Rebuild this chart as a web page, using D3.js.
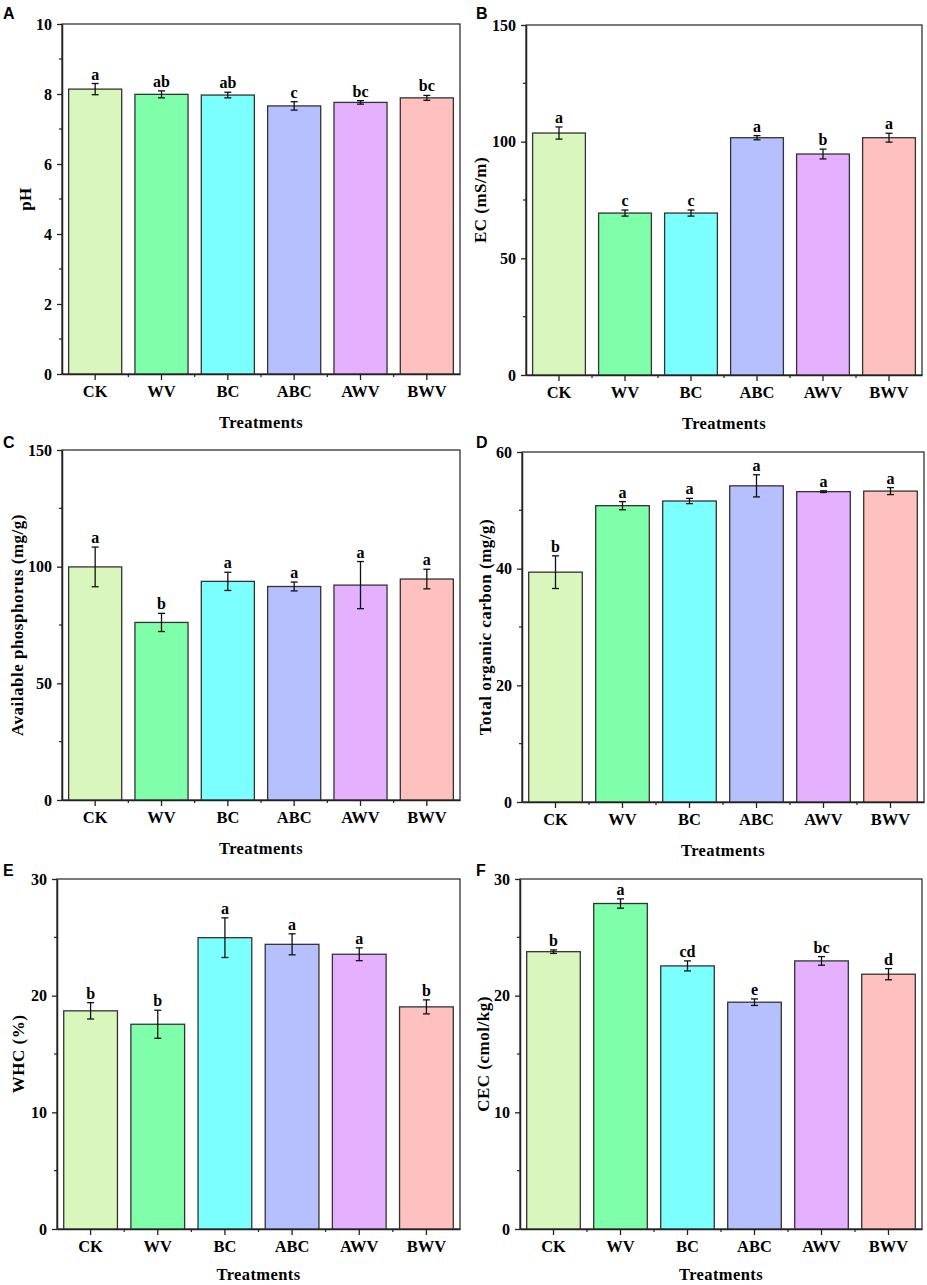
<!DOCTYPE html>
<html>
<head>
<meta charset="utf-8">
<script src="https://cdn.jsdelivr.net/npm/d3@7"></script>
<style>
  body { margin: 0; background: #fff; }
  svg text { font-family: "Times New Roman", "Liberation Serif", serif; font-weight: bold; fill: #000; }
  .panel-letter { font-family: Arial, "Liberation Sans", sans-serif !important; }
</style>
</head>
<body>
<div id="chart"></div>
<script>
// treatments on the x axis
const treatments = ["CK", "WV", "BC", "ABC", "AWV", "BWV"];
const barColors = ["#d9f7bd", "#80ffaa", "#7cffff", "#b7c0ff", "#e5b1ff", "#ffc0c0"];

// A - pH
const phMean = [8.14, 7.99, 7.97, 7.66, 7.76, 7.89];
const phErr = [0.16, 0.10, 0.08, 0.12, 0.05, 0.07];
const phSig = ["a", "ab", "ab", "c", "bc", "bc"];

// B - EC
const ecMean = [103.7, 69.4, 69.4, 101.7, 94.7, 101.7];
const ecErr = [2.6, 1.3, 1.3, 0.9, 2.1, 1.9];
const ecSig = ["a", "c", "c", "a", "b", "a"];

// C - available phosphorus
const apMean = [99.9, 76.1, 93.7, 91.5, 92.1, 94.7];
const apErr = [8.5, 3.9, 3.9, 1.9, 10.1, 4.2];
const apSig = ["a", "b", "a", "a", "a", "a"];

// D - total organic carbon
const tocMean = [39.4, 50.8, 51.6, 54.2, 53.2, 53.3];
const tocErr = [2.8, 0.7, 0.45, 1.9, 0.15, 0.6];
const tocSig = ["b", "a", "a", "a", "a", "a"];

// E - WHC
const whcMean = [18.7, 17.55, 24.97, 24.4, 23.55, 19.04];
const whcErr = [0.7, 1.2, 1.7, 0.9, 0.55, 0.6];
const whcSig = ["b", "b", "a", "a", "a", "b"];

// F - CEC
const cecMean = [23.77, 27.9, 22.55, 19.44, 22.98, 21.84];
const cecErr = [0.15, 0.4, 0.43, 0.28, 0.37, 0.48];
const cecSig = ["b", "a", "cd", "e", "bc", "d"];

const yTicksA = [0, 2, 4, 6, 8, 10];
const yTicks150 = [0, 50, 100, 150];
const yTicks60 = [0, 20, 40, 60];
const yTicks30 = [0, 10, 20, 30];

const W = 927, H = 1285;
const svg = d3.select("#chart").append("svg")
  .attr("width", W)
  .attr("height", H);

// layout of the six panels
const panels = [
  { letter: "A", ylab: "pH", mean: phMean, err: phErr, sig: phSig, ticks: yTicksA,
    x0: 62, x1: 460, y0: 24, y1: 374, labOff: 37, lx: 3, ly: 19, tOff: 54 },
  { letter: "B", ylab: "EC (mS/m)", mean: ecMean, err: ecErr, sig: ecSig, ticks: yTicks150,
    x0: 526, x1: 922, y0: 25, y1: 375, labOff: 46, lx: 476, ly: 19, tOff: 54 },
  { letter: "C", ylab: "Available phosphorus  (mg/g)", mean: apMean, err: apErr, sig: apSig, ticks: yTicks150,
    x0: 62, x1: 460, y0: 450, y1: 800, labOff: 45, lx: 3, ly: 448, tOff: 54 },
  { letter: "D", ylab: "Total organic carbon (mg/g)", mean: tocMean, err: tocErr, sig: tocSig, ticks: yTicks60,
    x0: 522, x1: 924, y0: 452, y1: 802, labOff: 37, lx: 476, ly: 448, tOff: 54 },
  { letter: "E", ylab: "WHC (%)", mean: whcMean, err: whcErr, sig: whcSig, ticks: yTicks30,
    x0: 57, x1: 460, y0: 879, y1: 1229, labOff: 39, lx: 3, ly: 876, tOff: 51 },
  { letter: "F", ylab: "CEC (cmol/kg)", mean: cecMean, err: cecErr, sig: cecSig, ticks: yTicks30,
    x0: 520, x1: 922, y0: 879, y1: 1229, labOff: 37, lx: 476, ly: 876, tOff: 51 }
];

panels.forEach(drawPanel);

function drawPanel(p) {
  const g = svg.append("g");
  const yMax = p.ticks[p.ticks.length - 1];
  const step = p.ticks[1] - p.ticks[0];

  const x = d3.scaleBand()
    .domain(treatments)
    .range([p.x0, p.x1])
    .paddingInner(0.2)
    .paddingOuter(0.1);
  const y = d3.scaleLinear().domain([0, yMax]).range([p.y1, p.y0]);

  // frame
  g.append("rect")
    .attr("x", p.x0).attr("y", p.y0)
    .attr("width", p.x1 - p.x0).attr("height", p.y1 - p.y0)
    .attr("fill", "none").attr("stroke", "#222").attr("stroke-width", 1.2);

  // bars
  g.selectAll(".bar")
    .data(treatments)
    .join("rect")
    .attr("class", "bar")
    .attr("x", d => x(d))
    .attr("y", (d, i) => y(p.mean[i]))
    .attr("width", x.bandwidth())
    .attr("height", (d, i) => p.y1 - y(p.mean[i]))
    .attr("fill", (d, i) => barColors[i])
    .attr("stroke", "#333")
    .attr("stroke-width", 1.3);

  // error bars
  const cap = 3.5;
  const eb = g.selectAll(".err")
    .data(treatments)
    .join("g")
    .attr("class", "err")
    .attr("stroke", "#111")
    .attr("stroke-width", 1.3);
  eb.append("line")
    .attr("x1", d => x(d) + x.bandwidth() / 2)
    .attr("x2", d => x(d) + x.bandwidth() / 2)
    .attr("y1", (d, i) => y(p.mean[i] + p.err[i]))
    .attr("y2", (d, i) => y(p.mean[i] - p.err[i]));
  [1, -1].forEach(s => {
    eb.append("line")
      .attr("x1", d => x(d) + x.bandwidth() / 2 - cap)
      .attr("x2", d => x(d) + x.bandwidth() / 2 + cap)
      .attr("y1", (d, i) => y(p.mean[i] + s * p.err[i]))
      .attr("y2", (d, i) => y(p.mean[i] + s * p.err[i]));
  });

  // significance letters
  g.selectAll(".sig")
    .data(treatments)
    .join("text")
    .attr("class", "sig")
    .attr("x", d => x(d) + x.bandwidth() / 2)
    .attr("y", (d, i) => y(p.mean[i] + p.err[i]) - 4)
    .attr("text-anchor", "middle")
    .style("font-size", "16px")
    .text((d, i) => p.sig[i]);

  // y axis
  const yAxis = d3.axisLeft(y)
    .tickValues(p.ticks)
    .tickSize(5)
    .tickSizeOuter(0)
    .tickPadding(5);
  const ya = g.append("g")
    .attr("transform", `translate(${p.x0},0)`)
    .call(yAxis);
  ya.select(".domain").attr("stroke", "#222").attr("stroke-width", 1.5);
  ya.selectAll(".tick line").attr("stroke", "#222").attr("stroke-width", 1.3);
  ya.selectAll(".tick text").style("font-size", "16px");

  // y minor ticks
  const minor = d3.range(step / 2, yMax, step);
  g.selectAll(".yminor")
    .data(minor)
    .join("line")
    .attr("x1", p.x0 - 3).attr("x2", p.x0)
    .attr("y1", d => y(d)).attr("y2", d => y(d))
    .attr("stroke", "#222").attr("stroke-width", 1.2);

  // x axis
  const xa = g.append("g")
    .attr("transform", `translate(0,${p.y1})`)
    .call(d3.axisBottom(x).tickSize(6).tickSizeOuter(0).tickPadding(5));
  xa.select(".domain").attr("stroke", "#222").attr("stroke-width", 1.5);
  xa.selectAll(".tick line").attr("stroke", "#222").attr("stroke-width", 1.3);
  xa.selectAll(".tick text").style("font-size", "16.5px");

  // x minor ticks at band boundaries
  const bounds = treatments.slice(1).map(d => x(d) - x.step() * x.paddingInner() / 2);
  g.selectAll(".xminor")
    .data(bounds)
    .join("line")
    .attr("x1", d => d).attr("x2", d => d)
    .attr("y1", p.y1).attr("y2", p.y1 + 3)
    .attr("stroke", "#222").attr("stroke-width", 1.2);

  // axis titles
  g.append("text")
    .attr("x", (p.x0 + p.x1) / 2)
    .attr("y", p.y1 + p.tOff)
    .attr("text-anchor", "middle")
    .style("font-size", "16.5px")
    .style("letter-spacing", "0.4px")
    .text("Treatments");

  g.append("text")
    .attr("transform", `translate(${p.x0 - p.labOff},${(p.y0 + p.y1) / 2}) rotate(-90)`)
    .attr("text-anchor", "middle")
    .attr("dy", "0.35em")
    .style("font-size", "17px")
    .style("letter-spacing", "0.5px")
    .text(p.ylab);

  // panel letter
  g.append("text")
    .attr("class", "panel-letter")
    .attr("x", p.lx)
    .attr("y", p.ly)
    .style("font-size", "16px")
    .text(p.letter);
}
</script>
</body>
</html>
